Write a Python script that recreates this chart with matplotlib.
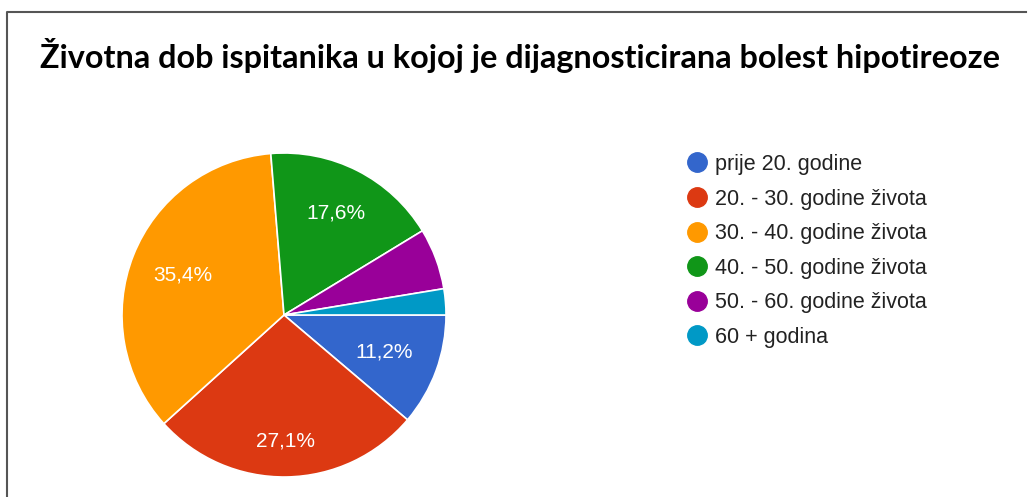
import numpy as np
import matplotlib.pyplot as plt
from matplotlib.lines import Line2D

# Dob dijagnoze hipotireoze (postoci)
categories = ['prije 20. godine', '20. - 30. godine života', '30. - 40. godine života',
              '40. - 50. godine života', '50. - 60. godine života', '60 + godina']
shares = [11.2, 27.1, 35.4, 17.6, 6.1, 2.6]
colors = ['#3366cc', '#dc3912', '#ff9900', '#109618', '#990099', '#0099c6']

fig = plt.figure(figsize=(10.30, 4.97), dpi=100)

# pie axes, centre around (284, 315) px, radius 162 px
ax = fig.add_axes([122 / 1030, 20 / 497, 324 / 1030, 324 / 497])


def pct_label(p):
    # Google Charts hides the text on the small slices
    return ('%.1f%%' % p).replace('.', ',') if p > 10 else ''


wedges, texts, autotexts = ax.pie(shares, colors=colors, startangle=0, counterclock=False,
                                  autopct=pct_label, pctdistance=0.7,
                                  wedgeprops=dict(edgecolor='white', linewidth=1.2),
                                  textprops=dict(color='white', fontsize=15, family='Liberation Sans'))

# Google places the slice text a bit differently per slice
label_r = [0.66, 0.78, 0.67, 0.71, 0.7, 0.7]
for w, t, r in zip(wedges, autotexts, label_r):
    mid = np.deg2rad((w.theta1 + w.theta2) / 2)
    t.set_position((r * np.cos(mid), r * np.sin(mid)))

ax.set_xlim(-1, 1)
ax.set_ylim(-1, 1)
ax.set_aspect('equal')
ax.axis('off')

handles = [Line2D([0], [0], marker='o', linestyle='none', markersize=14,
                  markerfacecolor=c, markeredgecolor=c) for c in colors]
fig.legend(handles, categories, loc='upper left', bbox_to_anchor=(686 / 1030, 1 - 154 / 497),
           frameon=False, prop=dict(family='Liberation Sans', size=15.5), labelcolor='#222222',
           handletextpad=0.35, labelspacing=0.63, handlelength=1.0, borderaxespad=0,
           borderpad=0)

fig.text(0.505, 0.889, 'Životna dob ispitanika u kojoj je dijagnosticirana bolest hipotireoze',
         ha='center', va='center', fontsize=23.3, fontweight='bold', family='Lato')

# the frame of the screenshot (left and top edges only)
fig.add_artist(Line2D([7 / 1030, 7 / 1030, 1026 / 1030], [0, 1 - 12 / 497, 1 - 12 / 497],
                      transform=fig.transFigure, color='#555555', linewidth=1.5))

fig.savefig('out.png', dpi=100)
